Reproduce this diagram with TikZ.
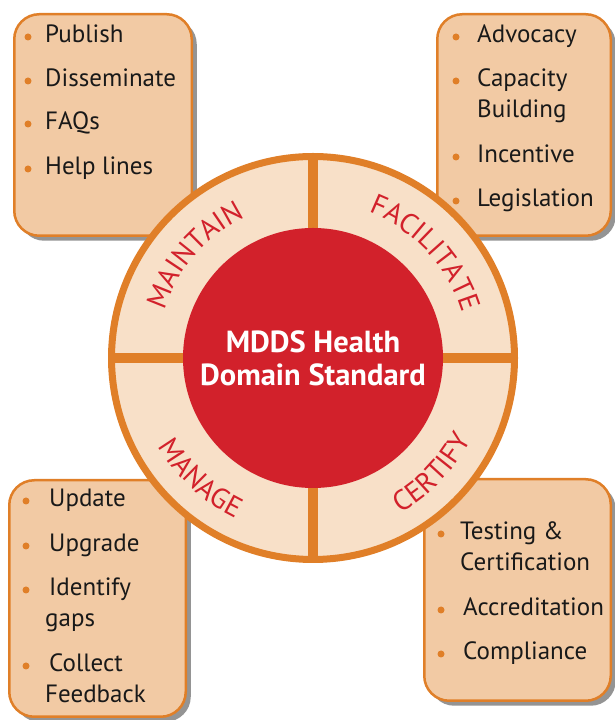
\documentclass[tikz,border=0pt]{standalone}
\usepackage{fontspec}
\setmainfont{PT Sans}
\usepackage{tikz}
\usetikzlibrary{positioning, shadows, decorations.text}
\definecolor{boxfill}{HTML}{F2CAA4}
\definecolor{ringfill}{HTML}{F8E0C8}
\definecolor{mddsorange}{HTML}{E07F28}
\definecolor{mddsred}{HTML}{D2212B}
\newcommand{\ringfont}{\fontsize{28.5}{28.5}\selectfont}

\begin{document}
\begin{tikzpicture}[
		x=1pt, y=1pt,
		listbox/.style={rectangle, draw=mddsorange, line width=2.5pt, fill=boxfill, rounded corners=25pt, inner sep=0pt, drop shadow={shadow xshift=5pt, shadow yshift=-5pt, fill=black!70, opacity=0.6}},
		item/.style={anchor=base west, inner sep=0pt, font=\fontsize{25}{30}\selectfont, text=black!90},
		dot/.style={circle, fill=mddsorange, inner sep=0pt, minimum size=7pt},
		ringlabel/.style={decorate, decoration={text along path, text align=center, text color=mddsred, text={|\ringfont|#1}}}
	]
	\useasboundingbox (0,0) rectangle (614,720);

	\node[listbox, minimum width=177.5pt, minimum height=221.5pt] (maintainbox) at (103,595) {};
	\node[listbox, minimum width=173.5pt, minimum height=221.5pt] (facilitatebox) at (524,595) {};
	\node[listbox, minimum width=176.5pt, minimum height=236.5pt] (managebox) at (97.5,121.5) {};
	\node[listbox, minimum width=186.5pt, minimum height=221.5pt] (certifybox) at (517.5,130) {};

	\node[dot] (d-publish) at (28,683) {};
	\node[item] (publish) at (45,677) {Publish};
	\node[dot] (d-disseminate) at (28,639) {};
	\node[item] (disseminate) at (45,633) {Disseminate};
	\node[dot] (d-faqs) at (28,596) {};
	\node[item] (faqs) at (45,590) {FAQs};
	\node[dot] (d-help) at (28,551) {};
	\node[item] (help) at (45,545) {Help lines};

	\node[dot] (d-advocacy) at (456,683) {};
	\node[item] (advocacy) at (477,677) {Advocacy};
	\node[dot] (d-capacity) at (456,639) {};
	\node[item] (capacity) at (477,633) {Capacity};
	\node[item] (building) at (477,602) {Building};
	\node[dot] (d-incentive) at (456,563) {};
	\node[item] (incentive) at (477,557) {Incentive};
	\node[dot] (d-legislation) at (456,519) {};
	\node[item] (legislation) at (477,513) {Legislation};

	\node[dot] (d-update) at (26,219) {};
	\node[item] (update) at (49,213) {Update};
	\node[dot] (d-upgrade) at (26,174) {};
	\node[item] (upgrade) at (49,168) {Upgrade};
	\node[dot] (d-identify) at (26,130) {};
	\node[item] (identify) at (49,124) {Identify};
	\node[item] (gaps) at (45,93) {gaps};
	\node[dot] (d-collect) at (26,54) {};
	\node[item] (collect) at (49,48) {Collect};
	\node[item] (feedback) at (45,17) {Feedback};

	\node[dot] (d-testing) at (441,186) {};
	\node[item] (testing) at (460,180) {Testing \&};
	\node[item] (certification) at (460,149) {Certification};
	\node[dot] (d-accreditation) at (441,110) {};
	\node[item] (accreditation) at (463,104) {Accreditation};
	\node[dot] (d-compliance) at (441,66) {};
	\node[item] (compliance) at (463,60) {Compliance};

	\node[circle, draw=mddsorange, line width=7pt, fill=ringfill, minimum size=403pt, inner sep=0pt] (ring) at (313,362) {};
	\draw[mddsorange, line width=10pt] (ring.north) -- (ring.south);
	\draw[mddsorange, line width=10pt] (ring.west) -- (ring.east);
	\node[circle, fill=mddsred, minimum size=260pt, inner sep=0pt, text=white, align=center, font=\fontsize{30.5}{33}\selectfont\bfseries] (core) at (313,362) {MDDS Health\\Domain Standard};

	\path[ringlabel=MAINTAIN] ([shift={(179:156)}]core.center) arc[start angle=179, end angle=99, radius=156];
	\path[ringlabel=FACILITATE] ([shift={(83:156)}]core.center) arc[start angle=83, end angle=3, radius=156];
	\path[ringlabel=MANAGE] ([shift={(187:178)}]core.center) arc[start angle=187, end angle=267, radius=178];
	\path[ringlabel=CERTIFY] ([shift={(276:178)}]core.center) arc[start angle=276, end angle=356, radius=178];
\end{tikzpicture}
\end{document}
